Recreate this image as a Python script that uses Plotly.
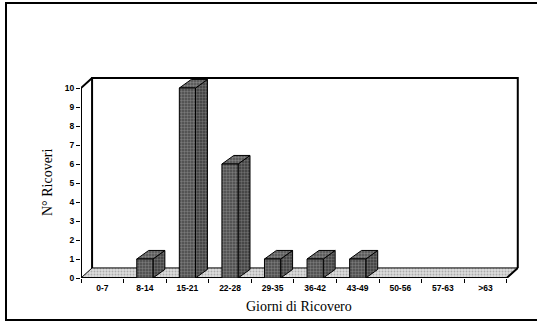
import plotly.graph_objects as go

# Length-of-stay classes (days) and number of admissions in each
categories = ["0-7", "8-14", "15-21", "22-28", "29-35", "36-42", "43-49", "50-56", "57-63", ">63"]
admissions = [0, 1, 10, 6, 1, 1, 1, 0, 0, 0]
y_ticks = list(range(0, 11))

# Pseudo-3D geometry (data units)
WALL_DX, WALL_DY = 0.26, 0.53     # depth of the floor / back wall
BAR_HALF = 0.19                   # half width of a bar's front face
BAR_DX, BAR_DY = 0.28, 0.45       # depth of each bar
X0, X1 = -0.5, len(categories) - 0.5
Y_TOP = 10

fig = go.Figure()


def poly_trace(polys, bg, fg, solidity=0.4, line_w=1):
    xs, ys = [], []
    for p in polys:
        for (x, y) in p + [p[0]]:
            xs.append(x)
            ys.append(y)
        xs.append(None)
        ys.append(None)
    return go.Scatter(
        x=xs, y=ys, mode="lines", fill="toself",
        fillcolor=bg,
        fillpattern=dict(shape=".", bgcolor=bg, fgcolor=fg, size=3, solidity=solidity),
        line=dict(color="black", width=line_w),
        hoverinfo="skip", showlegend=False,
    )


def line_trace(xs, ys, w=2):
    return go.Scatter(x=xs, y=ys, mode="lines", line=dict(color="black", width=w),
                      hoverinfo="skip", showlegend=False)


# floor slab
floor = [(X0, 0), (X1, 0), (X1 + WALL_DX, WALL_DY), (X0 + WALL_DX, WALL_DY)]
fig.add_trace(poly_trace([floor], "#dcdcdc", "#7a7a7a", solidity=0.3))

# back wall and side wall edges
fig.add_trace(line_trace(
    [X0 + WALL_DX, X0 + WALL_DX, X1 + WALL_DX, X1 + WALL_DX],
    [WALL_DY, Y_TOP + WALL_DY, Y_TOP + WALL_DY, WALL_DY]))
fig.add_trace(line_trace(
    [X0, X0, X0 + WALL_DX],
    [0, Y_TOP, Y_TOP + WALL_DY]))
fig.add_trace(line_trace([X0, X1, X1 + WALL_DX], [0, 0, WALL_DY]))

# bars: front, side and top faces
fronts, sides, tops = [], [], []
for i, v in enumerate(admissions):
    if v <= 0:
        continue
    l, r = i - BAR_HALF, i + BAR_HALF
    fronts.append([(l, 0), (r, 0), (r, v), (l, v)])
    sides.append([(r, 0), (r + BAR_DX, BAR_DY), (r + BAR_DX, v + BAR_DY), (r, v)])
    tops.append([(l, v), (r, v), (r + BAR_DX, v + BAR_DY), (l + BAR_DX, v + BAR_DY)])

fig.add_trace(poly_trace(sides, "#3a3a3a", "#a0a0a0", solidity=0.5))
fig.add_trace(poly_trace(tops, "#505050", "#b4b4b4", solidity=0.5))
fig.add_trace(poly_trace(fronts, "#474747", "#ababab", solidity=0.5))

W, H = 537, 323
ML, MR, MT, MB = 81, 9, 69, 45
PW, PH = W - ML - MR, H - MT - MB


def px_x(px):
    return (px - ML) / PW


def px_y(py):
    return (H - MB - py) / PH


fig.update_layout(
    width=W, height=H,
    margin=dict(l=ML, r=MR, t=MT, b=MB),
    paper_bgcolor="white", plot_bgcolor="white",
    xaxis=dict(
        range=[X0, len(categories)], showgrid=False, zeroline=False, showline=False,
        tickmode="array", tickvals=list(range(len(categories))), ticktext=categories,
        ticks="", ticklabelstandoff=3,
        tickfont=dict(family="Liberation Sans", size=8.5, color="black", weight="bold"),
        minor=dict(tick0=-0.5, dtick=1, ticks="outside", ticklen=4, tickwidth=1,
                   tickcolor="black"),
        fixedrange=True,
    ),
    yaxis=dict(
        range=[0, 11], showgrid=False, zeroline=False, showline=False,
        tickmode="array", tickvals=y_ticks, ticks="outside", ticklen=4, tickwidth=1,
        tickcolor="black",
        tickfont=dict(family="Liberation Sans", size=8.5, color="black", weight="bold"),
        fixedrange=True,
    ),
    shapes=[
        dict(type="path", xref="paper", yref="paper",
             path=f"M {px_x(540)} {px_y(3)} L {px_x(6)} {px_y(3)} "
                  f"L {px_x(6)} {px_y(320)} L {px_x(540)} {px_y(320)}",
             line=dict(color="black", width=2)),
    ],
    annotations=[
        dict(text="N° Ricoveri", xref="paper", yref="paper",
             x=px_x(47), y=px_y(182), xanchor="center", yanchor="middle",
             textangle=-90, showarrow=False,
             font=dict(family="Liberation Serif", size=14, color="black")),
        dict(text="Giorni di Ricovero", xref="paper", yref="paper",
             x=px_x(299), y=px_y(306), xanchor="center", yanchor="middle",
             showarrow=False,
             font=dict(family="Liberation Serif", size=14, color="black")),
    ],
)

fig.write_html("out.html")
